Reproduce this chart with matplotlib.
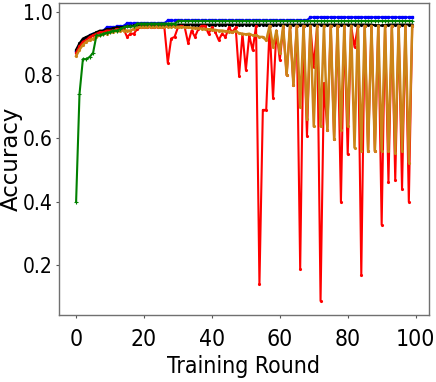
import matplotlib
matplotlib.use("Agg")
import matplotlib.pyplot as plt
from matplotlib import font_manager as fm

rounds = list(range(100))

blue = ([0.875, 0.895, 0.91, 0.915, 0.925, 0.93, 0.93, 0.935, 0.94, 0.95,
         0.95, 0.95, 0.953, 0.953, 0.955] + [0.963] * 12 + [0.972] * 42 + [0.982] * 31)

black = ([0.88, 0.90, 0.915, 0.92, 0.925, 0.93, 0.935, 0.94, 0.94, 0.945,
          0.945, 0.948, 0.95, 0.95, 0.952, 0.953, 0.955, 0.956, 0.957, 0.958]
         + [0.959] * 68 + [0.957, 0.956, 0.956, 0.957] + [0.959] * 8)

green = ([0.40, 0.74, 0.85, 0.85, 0.857, 0.87, 0.925, 0.925, 0.93, 0.933,
          0.935, 0.94, 0.94, 0.945, 0.95, 0.953, 0.953, 0.953]
         + [0.962] * 12 + [0.97] * 70)

red = [0.87, 0.89, 0.905, 0.91, 0.92, 0.925, 0.93, 0.935, 0.935, 0.94,
       0.94, 0.94, 0.945, 0.945, 0.945, 0.92, 0.93, 0.93, 0.945, 0.95,
       0.95, 0.95, 0.95, 0.95, 0.95, 0.95, 0.95, 0.838, 0.915, 0.92,
       0.95, 0.955, 0.95, 0.90, 0.94, 0.92, 0.945, 0.955, 0.955, 0.93,
       0.95, 0.935, 0.91, 0.93, 0.92, 0.95, 0.935, 0.95, 0.797, 0.93,
       0.816, 0.925, 0.878, 0.955, 0.141, 0.69, 0.69, 0.955, 0.727, 0.94,
       0.847, 0.95, 0.80, 0.95, 0.77, 0.955, 0.19, 0.955, 0.607, 0.955,
       0.826, 0.955, 0.088, 0.774, 0.628, 0.955, 0.597, 0.955, 0.40, 0.955,
       0.55, 0.955, 0.888, 0.955, 0.17, 0.955, 0.56, 0.955, 0.56, 0.955,
       0.328, 0.955, 0.462, 0.955, 0.468, 0.955, 0.44, 0.955, 0.40, 0.955]

orange = [0.86, 0.88, 0.895, 0.905, 0.91, 0.915, 0.92, 0.925, 0.93, 0.93,
          0.935, 0.935, 0.94, 0.94, 0.94, 0.94, 0.94, 0.945, 0.95, 0.952,
          0.952, 0.952, 0.952, 0.952, 0.952, 0.952, 0.952, 0.952, 0.952, 0.952,
          0.952, 0.951, 0.95, 0.95, 0.949, 0.948, 0.947, 0.946, 0.945, 0.944,
          0.943, 0.942, 0.94, 0.94, 0.938, 0.937, 0.935, 0.938, 0.932, 0.93,
          0.928, 0.93, 0.925, 0.925, 0.92, 0.92, 0.909, 0.955, 0.888, 0.94,
          0.868, 0.955, 0.80, 0.955, 0.769, 0.955, 0.70, 0.955, 0.66, 0.955,
          0.638, 0.955, 0.638, 0.955, 0.628, 0.955, 0.597, 0.955, 0.628, 0.955,
          0.638, 0.955, 0.571, 0.955, 0.56, 0.955, 0.56, 0.955, 0.56, 0.955,
          0.56, 0.955, 0.56, 0.955, 0.555, 0.955, 0.56, 0.955, 0.524, 0.955]

yticks = [0.2, 0.4, 0.6, 0.8, 1.0]
xticks = [0, 20, 40, 60, 80, 100]

has_cond = any('DejaVuSansCondensed' in f.fname for f in fm.fontManager.ttflist)
stretch = 'condensed' if has_cond else 'normal'
xtick_size = 16.5 if has_cond else 15
ytick_size = 15 if has_cond else 13.5
xlab_size = 16.5 if has_cond else 15

fig = plt.figure(figsize=(4.36, 3.82), dpi=100)
ax = fig.add_axes([0.136, 0.175, 0.848, 0.817])

lw = 1.5
ax.plot(rounds, blue, color='#0000ff', lw=lw, marker='s', ms=2.0)
ax.plot(rounds, black, color='#000000', lw=lw, marker='.', ms=2.5)
ax.plot(rounds, red, color='#ff0000', lw=lw, marker='.', ms=2.5)
ax.plot(rounds, orange, color='#cc8418', lw=lw + 0.3, marker='.', ms=2.5)
ax.plot(rounds, green, color='#008000', lw=lw, marker='+', ms=3.5, mew=0.8)

ax.set_xticks(xticks)
ax.set_yticks(yticks)
ax.set_yticklabels([f"{v:.1f}" for v in yticks])

for lab in ax.get_xticklabels():
    lab.set_fontfamily('DejaVu Sans')
    lab.set_fontstretch(stretch)
    lab.set_fontsize(xtick_size)
for lab in ax.get_yticklabels():
    lab.set_fontfamily('DejaVu Sans')
    lab.set_fontstretch(stretch)
    lab.set_fontsize(ytick_size)

ax.tick_params(axis='both', length=2.5, width=0.8, color='#555555', pad=2)
ax.tick_params(axis='x', pad=7)

for s in ax.spines.values():
    s.set_color('#707070')
    s.set_linewidth(1.0)

ax.set_xlabel('Training Round', fontfamily='DejaVu Sans', fontstretch=stretch,
              fontsize=xlab_size)
ax.set_ylabel('Accuracy', fontfamily='DejaVu Sans', fontsize=16.5)
ax.xaxis.set_label_coords(0.498, -0.128)
ax.xaxis.label.set_verticalalignment('top')
ax.yaxis.set_label_coords(-0.112, 0.5)
ax.yaxis.label.set_verticalalignment('baseline')

fig.savefig('out.png', dpi=100)
